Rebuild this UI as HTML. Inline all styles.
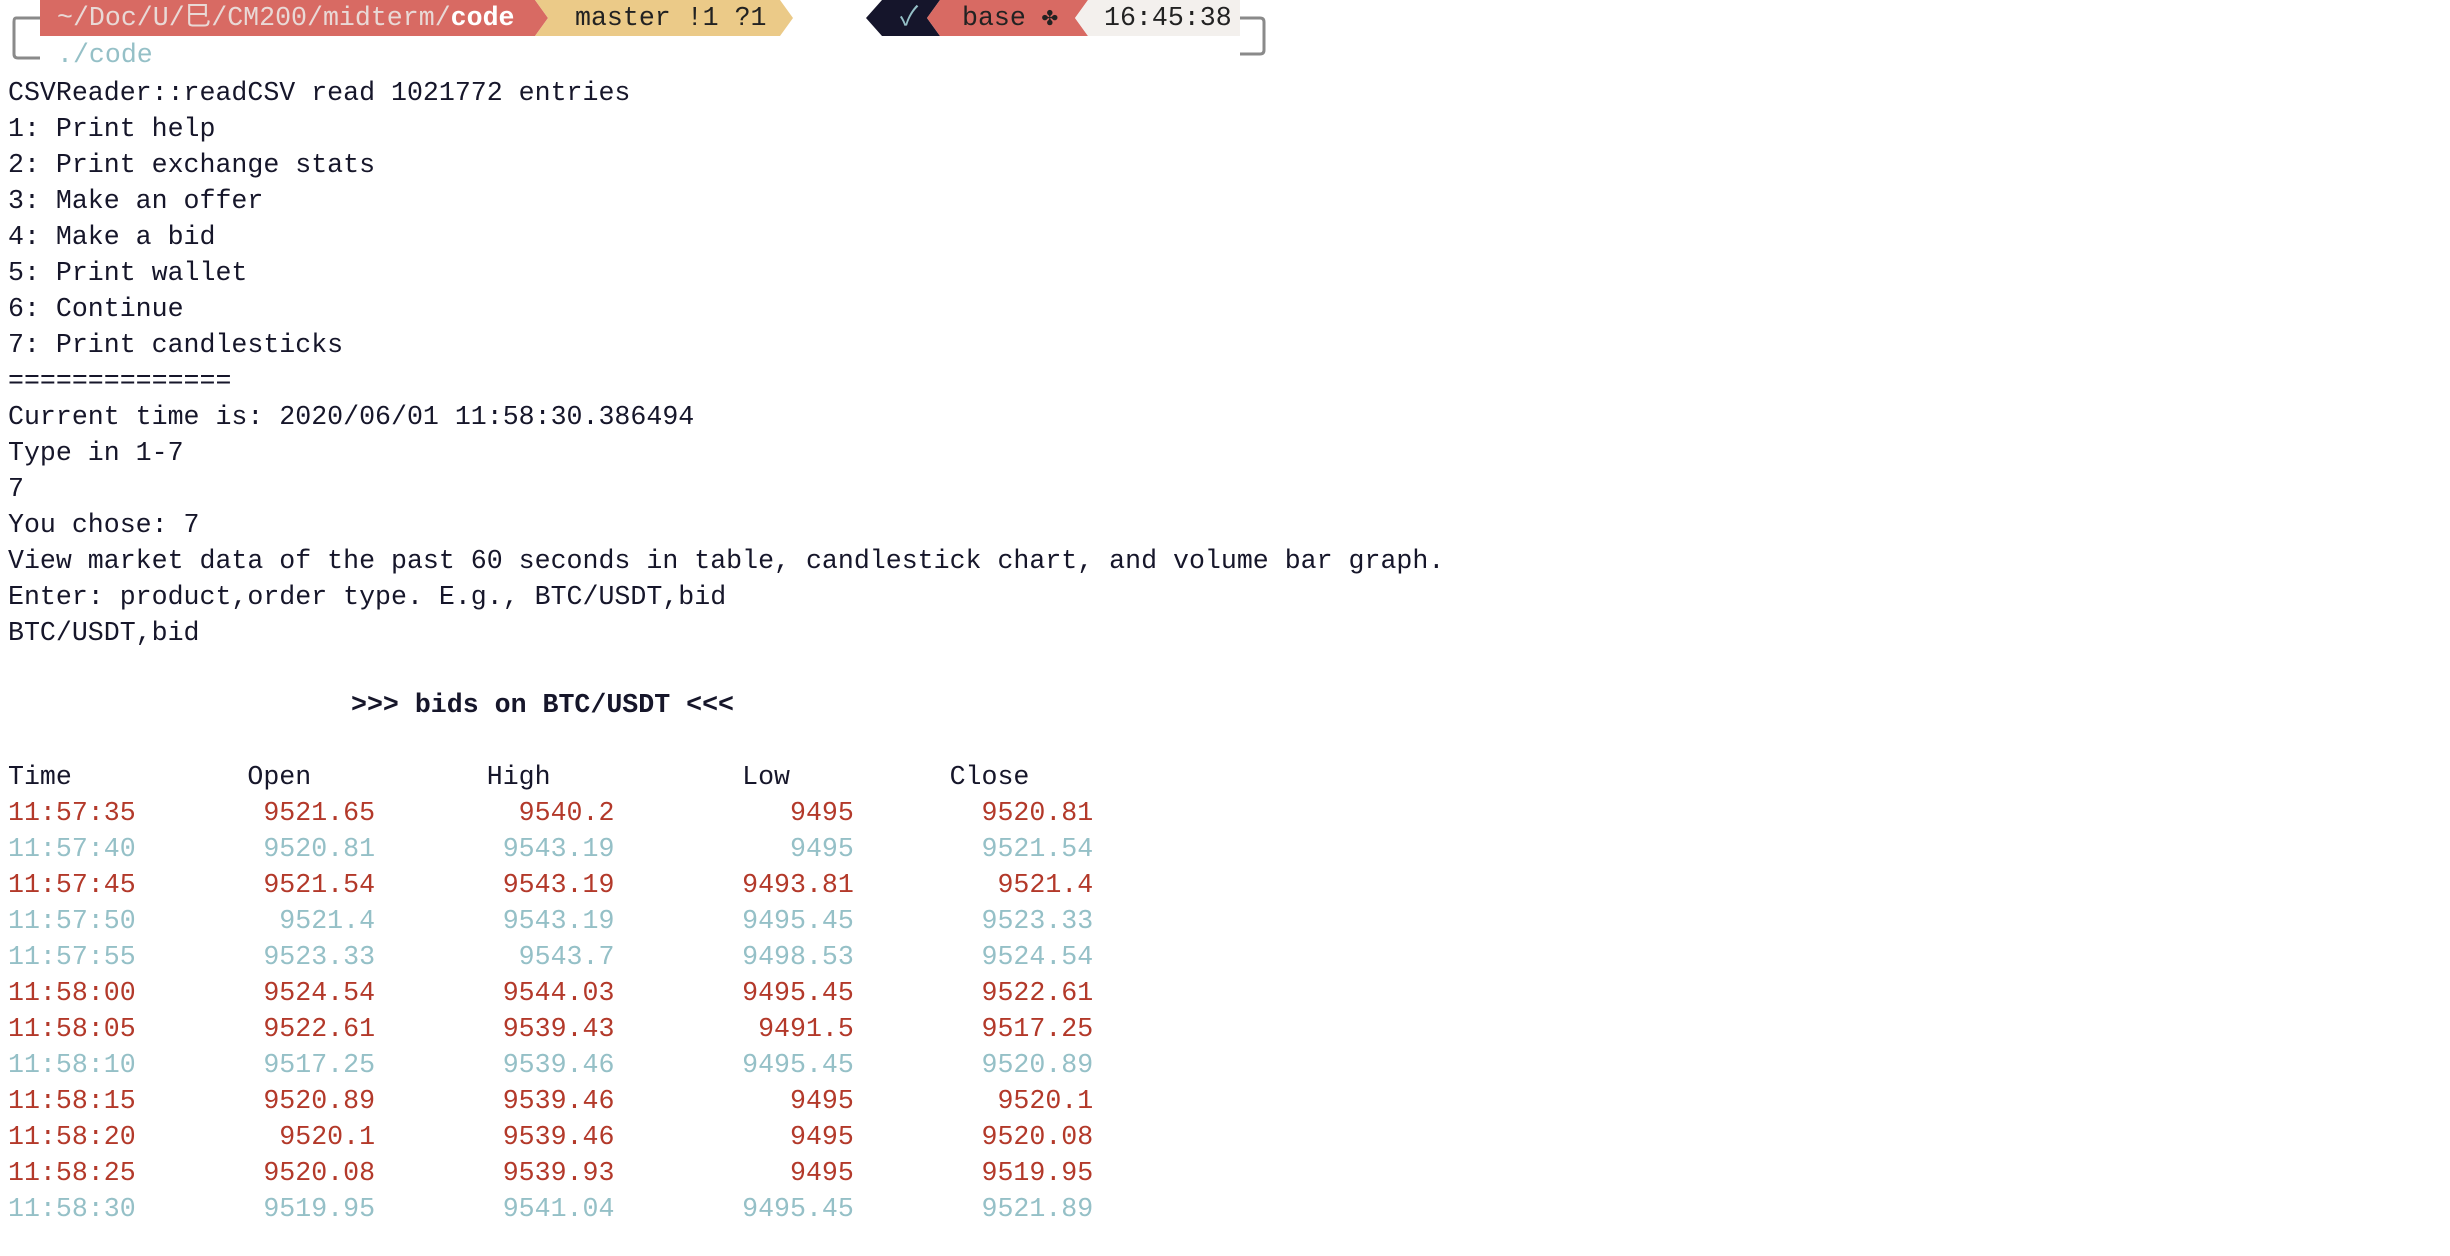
<!DOCTYPE html>
<html><head><meta charset="utf-8">
<style>
html,body{margin:0;padding:0;background:#fff;}
body{width:2450px;height:1256px;position:relative;overflow:hidden;font-family:"Liberation Mono","Noto Sans CJK SC",monospace;font-size:26.6px;color:#16162a;}
.ln{position:absolute;left:8px;white-space:pre;height:36px;line-height:36px;}
.t{position:absolute;white-space:pre;line-height:36px;top:0;}
.red{color:#b3392a}.teal{color:#95c0c7}
</style></head><body>
<svg width="2450" height="80" style="position:absolute;left:0;top:0">
  <path d="M40 18 L16 18 Q14 18 14 22 L14 54 Q14 58 18 58 L40 58" fill="none" stroke="#8a8a8a" stroke-width="3"/>
  <path d="M1240 18 L1260 18 Q1264 18 1264 22 L1264 50 Q1264 54 1260 54 L1240 54" fill="none" stroke="#8a8a8a" stroke-width="3"/>
  <polygon points="40,0 535,0 548,18 535,36 40,36" fill="#d86a63"/>
  <polygon points="535,0 780,0 793,18 780,36 535,36 548,18" fill="#ebca88"/>
  <polygon points="882,0 940,0 927,18 940,36 882,36 866,18" fill="#15152b"/>
  <polygon points="940,0 1088,0 1075,18 1088,36 940,36 927,18" fill="#d86a63"/>
  <polygon points="1088,0 1240,0 1240,36 1088,36 1075,18" fill="#f3f0ed"/>
</svg>
<div class="t" style="left:57px;color:#e9d9d6">~/Doc/U/巳/CM200/midterm/<b style="color:#fff">code</b></div>
<div class="t" style="left:575px;color:#222">master !1 ?1</div>
<div class="t" style="left:900px;color:#95c0c7">✓</div>
<div class="t" style="left:962px;color:#222">base ✤</div>
<div class="t" style="left:1104px;color:#222">16:45:38</div>
<div class="ln teal" style="top:37px;left:57px">./code</div>
<div id="out"></div>
<script>
const textLines = [
 [2,"CSVReader::readCSV read 1021772 entries"],
 [3,"1: Print help"],[4,"2: Print exchange stats"],[5,"3: Make an offer"],
 [6,"4: Make a bid"],[7,"5: Print wallet"],[8,"6: Continue"],[9,"7: Print candlesticks"],
 [10,"=============="],[11,"Current time is: 2020/06/01 11:58:30.386494"],
 [12,"Type in 1-7"],[13,"7"],[14,"You chose: 7"],
 [15,"View market data of the past 60 seconds in table, candlestick chart, and volume bar graph."],
 [16,"Enter: product,order type. E.g., BTC/USDT,bid"],[17,"BTC/USDT,bid"]
];
const times = ["11:57:35","11:57:40","11:57:45","11:57:50","11:57:55","11:58:00","11:58:05","11:58:10","11:58:15","11:58:20","11:58:25","11:58:30"];
const opens = ["9521.65","9520.81","9521.54","9521.4","9523.33","9524.54","9522.61","9517.25","9520.89","9520.1","9520.08","9519.95"];
const highs = ["9540.2","9543.19","9543.19","9543.19","9543.7","9544.03","9539.43","9539.46","9539.46","9539.46","9539.93","9541.04"];
const lows = ["9495","9495","9493.81","9495.45","9498.53","9495.45","9491.5","9495.45","9495","9495","9495","9495.45"];
const closes = ["9520.81","9521.54","9521.4","9523.33","9524.54","9522.61","9517.25","9520.89","9520.1","9520.08","9519.95","9521.89"];
const out = document.getElementById('out');
function y(n){return (3.2 + 36.0*n).toFixed(1)+'px';}
textLines.forEach(function(l,i){
  const d=document.createElement('div');d.className='ln';d.style.top=y(l[0]);d.textContent=l[1];
  
  
  out.appendChild(d);
});
const title=document.createElement('div');title.className='ln';title.style.top=y(19);title.style.left='351px';title.style.fontWeight='bold';
title.textContent='>>> bids on BTC/USDT <<<';


out.appendChild(title);
function pad(s,n){while(s.length<n)s=' '+s;return s;}
const hdr=document.createElement('div');hdr.className='ln';hdr.style.top=y(21);
hdr.textContent='Time           Open           High            Low          Close';


out.appendChild(hdr);
times.forEach(function(t,i){
  const d=document.createElement('div');d.className='ln';d.style.top=y(22+i);
  const bear = parseFloat(closes[i]) < parseFloat(opens[i]);
  d.className += bear ? ' red' : ' teal';
  d.textContent = t + pad(opens[i],15) + pad(highs[i],15) + pad(lows[i],15) + pad(closes[i],15);
  
  
  out.appendChild(d);
});
</script>
</body></html>
